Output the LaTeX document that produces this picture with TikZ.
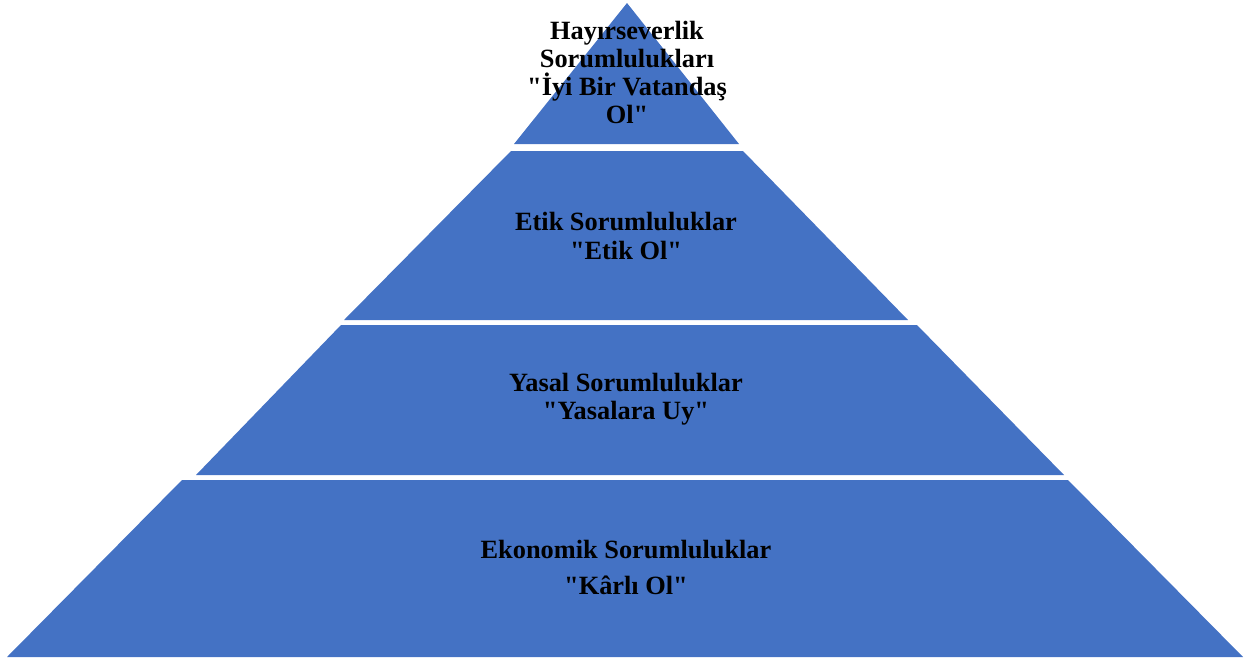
\documentclass[tikz,border=0pt]{standalone}
\usepackage{fontspec}
\setmainfont{Liberation Serif}[Ligatures=TeXOff]
\newcommand{\sq}{\symbol{34}}
\begin{document}
\begin{tikzpicture}[x=0.02cm,y=-0.02cm,
  band/.style={fill=bandblue,draw=none},
  lbl/.style={align=center,font=\fontsize{15}{16}\selectfont\bfseries,text=black,inner sep=0pt}]
\definecolor{bandblue}{HTML}{4472C4}
\useasboundingbox (0,0) rectangle (1247,664);
\fill[band] (627,3) -- (739,144) -- (514,144) -- cycle;
\fill[band] (511,151) -- (743,151) -- (908,320) -- (344,320) -- cycle;
\fill[band] (341,325) -- (917,325) -- (1064,475) -- (196,475) -- cycle;
\fill[band] (182,480) -- (1068,480) -- (1243,657) -- (7,657) -- cycle;
\node[lbl] (t1) at (627,72.5) {Hayırseverlik\\Sorumlulukları\\\sq İyi Bir Vatandaş\\Ol\sq};
\node[lbl] (t2) at (626,236) {Etik Sorumluluklar\\\sq Etik Ol\sq};
\node[lbl] (t3) at (626,399.5) {Yasal Sorumluluklar\\\sq Yasalara Uy\sq};
\node[lbl,font=\fontsize{15}{20.5}\selectfont\bfseries] (t4) at (626,567) {Ekonomik Sorumluluklar\\\sq Kârlı Ol\sq};
\end{tikzpicture}
\end{document}
